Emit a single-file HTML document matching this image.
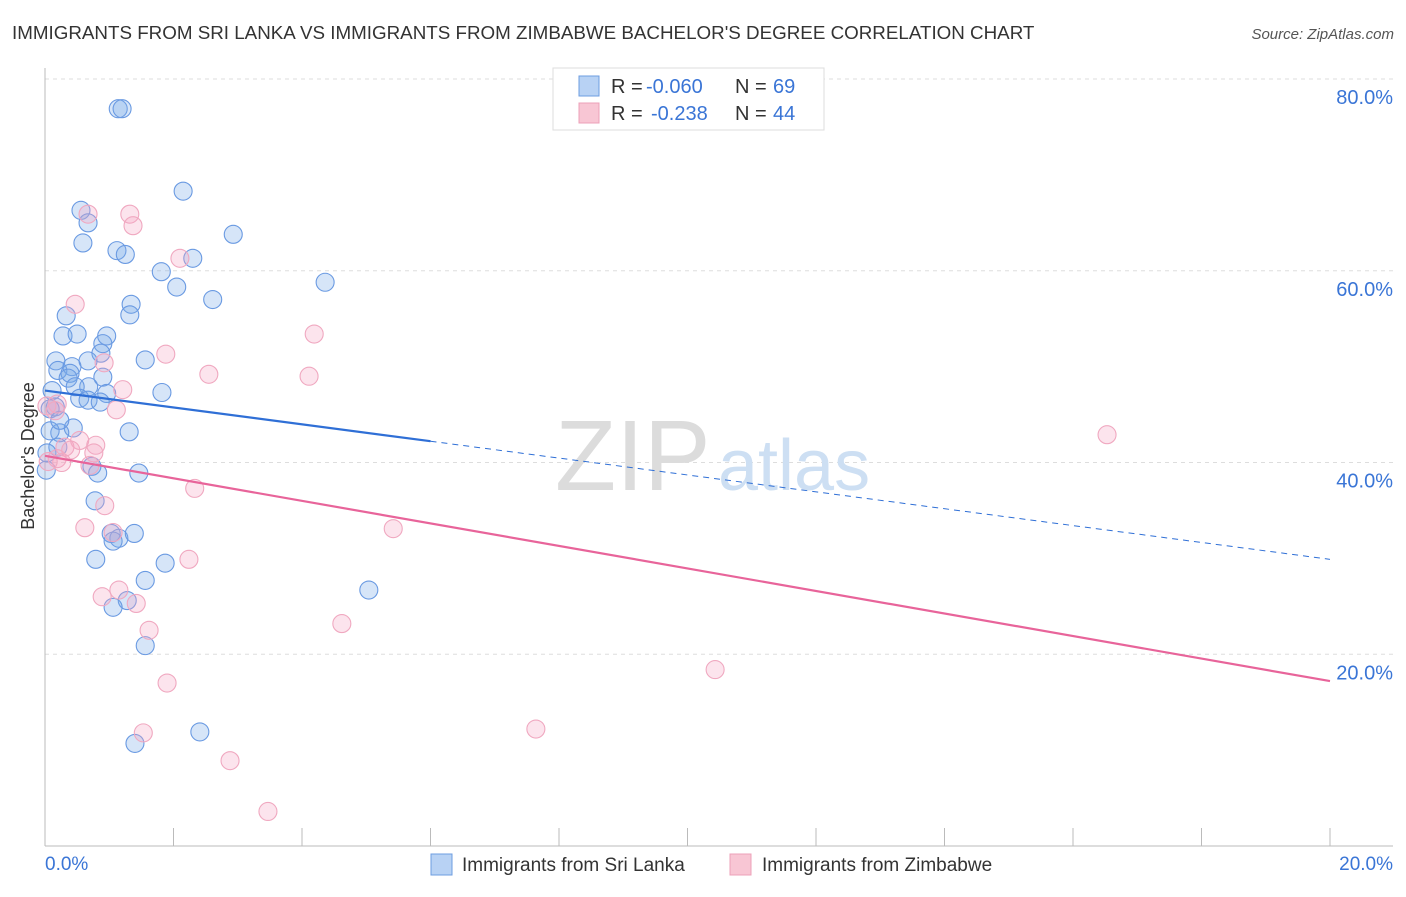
<!DOCTYPE html>
<html><head><meta charset="utf-8"><style>
body{margin:0;background:#fff;font-family:"Liberation Sans",sans-serif;}
svg text{font-family:"Liberation Sans",sans-serif;}
</style></head><body>
<svg width="1406" height="892">
<text x="12" y="39" font-size="18.8" fill="#333">IMMIGRANTS FROM SRI LANKA VS IMMIGRANTS FROM ZIMBABWE BACHELOR'S DEGREE CORRELATION CHART</text>
<text x="1394" y="39" font-size="15" fill="#555" text-anchor="end" font-style="italic">Source: ZipAtlas.com</text>
<g id="grid"></g>
<text x="555" y="490" font-size="100" fill="#dcdcdc" font-family="Liberation Serif">ZIP</text>
<text x="718" y="490" font-size="72" fill="#cddff3">atlas</text>
<g id="pts"></g>
<g id="lines"></g>
<text transform="translate(34,456) rotate(-90)" font-size="18" fill="#333" text-anchor="middle">Bachelor's Degree</text>
<g>
<rect x="553" y="68" width="271" height="62" fill="#fff" stroke="#ddd"/>
<rect x="579" y="76" width="20" height="20" fill="#b8d2f4" stroke="#6d9de0"/>
<rect x="579" y="103" width="20" height="20" fill="#f8c6d4" stroke="#eca0b8"/>
<text x="611" y="93" font-size="20" fill="#333">R =</text>
<text x="646" y="93" font-size="20" fill="#3a75d6">-0.060</text>
<text x="735" y="93" font-size="20" fill="#333">N =</text>
<text x="773" y="93" font-size="20" fill="#3a75d6">69</text>
<text x="611" y="120" font-size="20" fill="#333">R =</text>
<text x="651" y="120" font-size="20" fill="#3a75d6">-0.238</text>
<text x="735" y="120" font-size="20" fill="#333">N =</text>
<text x="773" y="120" font-size="20" fill="#3a75d6">44</text>
</g>
<g>
<rect x="431" y="854" width="21" height="21" fill="#b8d2f4" stroke="#6d9de0"/>
<text x="462" y="871" font-size="19" fill="#333">Immigrants from Sri Lanka</text>
<rect x="730" y="854" width="21" height="21" fill="#f8c6d4" stroke="#eca0b8"/>
<text x="762" y="871" font-size="19" fill="#333">Immigrants from Zimbabwe</text>
</g>
</svg>
<script>
const yTicks=[20,40,60,80];
const yTickLabels=["20.0%","40.0%","60.0%","80.0%"];
const xTicks=[0,2,4,6,8,10,12,14,16,18,20];
const blueX=[1.14,1.20,2.15,0.56,0.67,2.93,0.59,1.12,1.25,2.30,1.81,2.05,4.36,2.61,1.34,1.32,0.33,0.28,0.50,0.96,0.90,0.87,1.56,0.17,0.20,0.42,0.67,0.39,0.36,0.90,0.68,0.47,0.11,1.82,0.96,0.54,0.67,0.86,0.16,0.08,1.31,0.44,0.23,0.08,0.20,0.03,0.73,0.82,1.46,0.02,0.78,1.03,1.15,1.39,1.06,0.79,1.87,1.56,5.04,1.28,1.06,1.56,2.41,1.40,0.23];
const blueY=[76.9,76.9,68.3,66.3,65.0,63.8,62.9,62.1,61.7,61.3,59.9,58.3,58.8,57.0,56.5,55.4,55.3,53.2,53.4,53.2,52.4,51.4,50.7,50.6,49.6,50.0,50.6,49.3,48.8,48.9,47.9,47.9,47.5,47.3,47.2,46.7,46.5,46.3,45.8,45.6,43.2,43.6,43.1,43.3,41.6,41.0,39.6,38.9,38.9,39.2,36.0,32.6,32.1,32.6,31.8,29.9,29.5,27.7,26.7,25.6,24.9,20.9,11.9,10.7,44.4];
const pinkX=[0.47,0.67,1.32,1.37,2.10,4.19,1.88,0.92,1.21,2.55,4.11,1.11,0.19,0.03,0.54,0.79,0.31,0.40,0.19,0.26,0.76,0.70,0.05,0.93,2.33,0.62,5.42,1.06,2.24,1.15,0.89,1.42,1.62,4.62,1.90,10.43,1.53,7.64,2.88,3.47,16.53,0.16];
const pinkY=[56.5,65.9,65.9,64.7,61.3,53.4,51.3,50.4,47.6,49.2,49.0,45.5,46.1,45.9,42.3,41.8,41.6,41.3,40.4,40.0,41.0,39.7,40.1,35.5,37.3,33.2,33.1,32.7,29.9,26.7,26.0,25.3,22.5,23.2,17.0,18.4,11.8,12.2,8.9,3.6,42.9,45.4];
const blueTrend=[47.5,29.9];
const pinkTrend=[40.7,17.2];
const blueSolidEnd=6.0;
const NS="http://www.w3.org/2000/svg";
const X=v=>45+v/20*1285;
const Y=v=>846-v/80*767;
function mk(t,a,p){const e=document.createElementNS(NS,t);for(const k in a)e.setAttribute(k,a[k]);p.appendChild(e);return e;}
const grid=document.getElementById('grid');
yTicks.forEach((t,i)=>{
 const l=mk('line',{x1:45,x2:1393,y1:Y(t),y2:Y(t),stroke:'#ddd','stroke-dasharray':'4,4'},grid);
 
 
 const tx=mk('text',{x:1393,y:Y(t)+25,'font-size':20,fill:'#3a75d6','text-anchor':'end'},grid);
 tx.textContent=yTickLabels[i];
 
 
});
const ax=mk('line',{x1:45,x2:1393,y1:846,y2:846,stroke:'#bbb'},grid);


const ay=mk('line',{x1:45,x2:45,y1:68,y2:846,stroke:'#bbb'},grid);


xTicks.forEach(t=>{
 const l=mk('line',{x1:X(t),x2:X(t),y1:828,y2:846,stroke:'#bbb'},grid);
 
 
});
const xl0=mk('text',{x:45,y:870,'font-size':19,fill:'#3a75d6'},grid);xl0.textContent='0.0%';


const xl1=mk('text',{x:1393,y:870,'font-size':19,fill:'#3a75d6','text-anchor':'end'},grid);xl1.textContent='20.0%';


const pts=document.getElementById('pts');
blueX.forEach((x,i)=>{
 const c=mk('circle',{cx:X(x),cy:Y(blueY[i]),r:9,fill:'rgba(120,168,232,0.3)',stroke:'#6a9ae2','stroke-width':1.1},pts);
 
 
});
pinkX.forEach((x,i)=>{
 const c=mk('circle',{cx:X(x),cy:Y(pinkY[i]),r:9,fill:'rgba(245,165,195,0.3)',stroke:'#f0a8c0','stroke-width':1.1},pts);
 
 
});
const lines=document.getElementById('lines');
const bAt=x=>blueTrend[0]+(blueTrend[1]-blueTrend[0])*x/20;
const b1=mk('line',{x1:X(0),y1:Y(bAt(0)),x2:X(blueSolidEnd),y2:Y(bAt(blueSolidEnd)),stroke:'#2f6fd6','stroke-width':2.2},lines);


const b2=mk('line',{x1:X(blueSolidEnd),y1:Y(bAt(blueSolidEnd)),x2:X(20),y2:Y(bAt(20)),stroke:'#2f6fd6','stroke-width':1,'stroke-dasharray':'6,5'},lines);


const p1=mk('line',{x1:X(0),y1:Y(pinkTrend[0]),x2:X(20),y2:Y(pinkTrend[1]),stroke:'#e8649a','stroke-width':2.2},lines);


</script>
</body></html>
